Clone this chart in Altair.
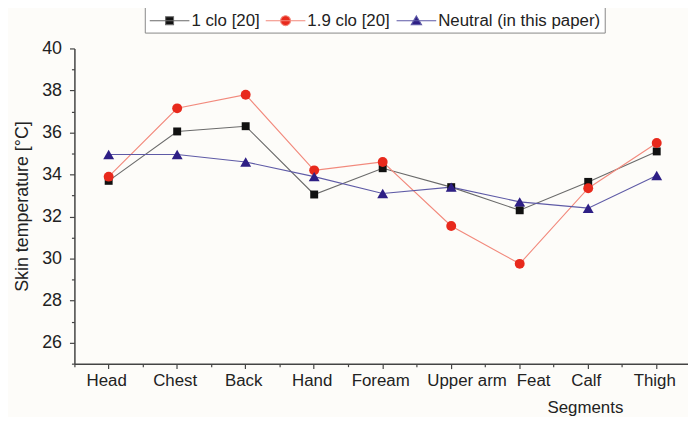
import altair as alt
import pandas as pd

segments = ["Head", "Chest", "Back", "Hand", "Foream", "Upper arm", "Feat", "Calf", "Thigh"]
clo_1 = [33.7, 36.05, 36.3, 33.05, 34.3, 33.4, 32.3, 33.65, 35.1]
clo_19 = [33.9, 37.15, 37.8, 34.2, 34.6, 31.55, 29.75, 33.35, 35.5]
neutral = [34.95, 34.95, 34.6, 33.9, 33.1, 33.4, 32.7, 32.4, 33.95]

series_names = ["1 clo [20]", "1.9 clo [20]", "Neutral (in this paper)"]
line_colors = ["#6a6a6a", "#f2897c", "#5e5aa6"]
marker_colors = ["#111111", "#e8291c", "#2e1f85"]
marker_shapes = ["square", "circle", "triangle-up"]
marker_sizes = [64, 100, 121]
legend_paths = [
    "M-1,0L1,0M-0.2,-0.2L0.2,-0.2L0.2,0.2L-0.2,0.2Z",
    "M-1,0L1,0M0.25,0A0.25,0.25,0,1,1,-0.25,0A0.25,0.25,0,1,1,0.25,0Z",
    "M-1,0L1,0M0,-0.24L0.26,0.2L-0.26,0.2Z",
]
y_ticks = list(range(25, 41))

rows = []
for name, vals in zip(series_names, [clo_1, clo_19, neutral]):
    for seg, v in zip(segments, vals):
        rows.append({"segment": seg, "temp": v, "series": name})
df = pd.DataFrame(rows)

FONT = "Liberation Sans"
AX = "#444444"

x_scale = alt.Scale(type="band", domain=segments, range=[0, 622], paddingInner=0, paddingOuter=0)
y_scale = alt.Scale(domain=[25, 40], nice=False, zero=False)
fill_scale = alt.Scale(domain=series_names, range=marker_colors)
stroke_scale = alt.Scale(domain=series_names, range=line_colors)
shape_scale = alt.Scale(domain=series_names, range=legend_paths)

x_major = alt.Axis(
    title="Segments", orient="bottom", bandPosition=0.5, labelAngle=0,
    labelFont=FONT, labelFontSize=17, labelColor="#222", labelPadding=4,
    labelOffset={"condition": [
        {"test": "datum.value == 'Upper arm'", "value": 16},
        {"test": "datum.value == 'Feat'", "value": 14},
    ], "value": -2},
    titleFont=FONT, titleFontSize=17, titleFontWeight="normal", titleColor="#222",
    titleX=515, titleY=49, titleAlign="center", titleBaseline="alphabetic",
    domainColor=AX, domainWidth=1.5, tickColor=AX, tickSize=5, tickWidth=1.2,
    grid=False,
)
x_minor = alt.Axis(
    title=None, orient="bottom", bandPosition=0, labels=False, domain=False,
    tickColor=AX, tickSize=3, tickWidth=1.2, grid=False,
)
y_axis = alt.Axis(
    title="Skin temperature [°C]", orient="left", values=y_ticks,
    labelExpr="datum.value % 2 == 0 ? datum.label : ''",
    labelFont=FONT, labelFontSize=18, labelColor="#222", labelPadding=8,
    titleFont=FONT, titleFontSize=18, titleFontWeight="normal", titleColor="#222",
    titlePadding=10,
    domainColor=AX, domainWidth=1.5, tickColor=AX, tickWidth=1.2,
    tickSize={"condition": {"test": "datum.value % 2 == 1", "value": 3}, "value": 5},
    grid=False,
)

leg = alt.Legend(
    title=None, orient="none", legendX=71, legendY=-53, direction="horizontal",
    labelFont=FONT, labelFontSize=17, labelColor="#222", labelOffset=1,
    columnPadding=3, padding=4, strokeColor="#888", fillColor="#ffffff",
    symbolSize=1600, symbolStrokeWidth=1.1, labelLimit=300,
)

base = alt.Chart(df)

# legend-only layer (draws no marks; the legend comes from its explicit scale domains)
legend_layer = base.mark_point(filled=True, strokeWidth=1.1, opacity=1).transform_filter(
    "datum.temp < 0"
).encode(
    x=alt.X("segment:N", scale=x_scale, sort=segments, axis=None),
    y=alt.Y("temp:Q", scale=y_scale, axis=None),
    fill=alt.Fill("series:N", scale=fill_scale, legend=leg),
    stroke=alt.Stroke("series:N", scale=stroke_scale, legend=leg),
    shape=alt.Shape("series:N", scale=shape_scale, legend=leg),
)

lines = base.mark_line(strokeWidth=1.1, opacity=1).encode(
    x=alt.X("segment:N", scale=x_scale, sort=segments, axis=x_major),
    y=alt.Y("temp:Q", scale=y_scale, axis=y_axis),
    stroke=alt.Stroke("series:N", scale=stroke_scale, legend=leg),
    detail="series:N",
)

marker_layers = []
for i, name in enumerate(series_names):
    mk = base.mark_point(
        shape=marker_shapes[i], filled=True, size=marker_sizes[i],
        color=marker_colors[i], opacity=1,
    ).transform_filter(alt.datum.series == name).encode(
        x=alt.X("segment:N", scale=x_scale, sort=segments, axis=x_minor if i == 0 else None),
        y=alt.Y("temp:Q", scale=y_scale, axis=None),
    )
    marker_layers.append(mk)

chart = alt.layer(legend_layer, lines, *marker_layers).resolve_axis(
    x="independent", y="independent"
).properties(
    width=612, height=318,
    autosize=alt.AutoSizeParams(type="none"),
    padding={"left": 67, "top": 39, "right": 7, "bottom": 52},
    background="#fdfcf9",
).configure_view(stroke=None)

chart.save("out.html", embed_options={"renderer": "svg", "actions": False})
